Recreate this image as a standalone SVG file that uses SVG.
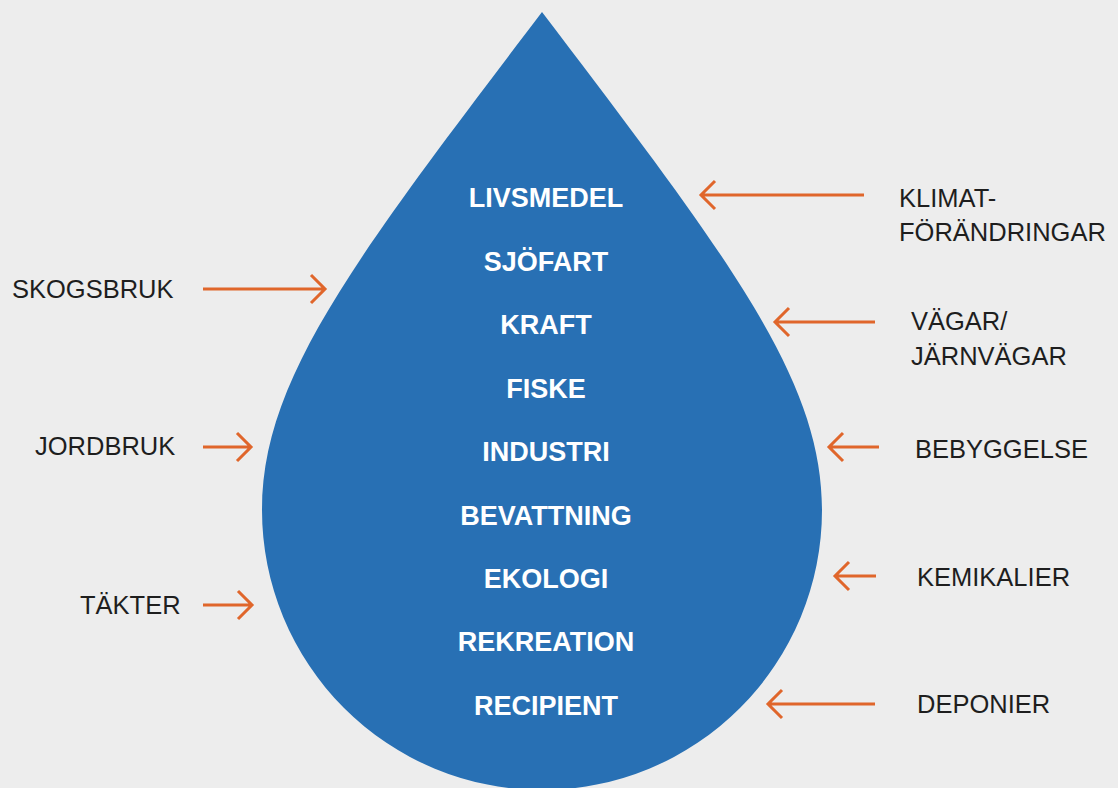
<svg xmlns="http://www.w3.org/2000/svg" width="1118" height="788" viewBox="0 0 1118 788">
  <style>
    .inner { font-family: "Liberation Sans", Arial, sans-serif; font-weight: bold; font-size: 27px; fill: #ffffff; text-anchor: middle; }
    .outer { font-family: "Liberation Sans", Arial, sans-serif; font-size: 25.5px; fill: #1e1e1e; }
    .arrow { fill: none; stroke: #e0662b; stroke-width: 3; stroke-linecap: butt; stroke-linejoin: miter; }
  </style>
  <rect width="1118" height="788" fill="#ededed"/>

  <!-- water drop -->
  <g id="drop">
    <path d="M 542 12 C 352 262 262 380 262 510 A 280 280 0 0 0 822 510 C 822 380 732 262 542 12 Z" fill="#2870b4"/>
    <text class="inner" x="546" y="207">LIVSMEDEL</text>
    <text class="inner" x="546" y="271">SJÖFART</text>
    <text class="inner" x="546" y="334">KRAFT</text>
    <text class="inner" x="546" y="398">FISKE</text>
    <text class="inner" x="546" y="461">INDUSTRI</text>
    <text class="inner" x="546" y="525">BEVATTNING</text>
    <text class="inner" x="546" y="588">EKOLOGI</text>
    <text class="inner" x="546" y="651">REKREATION</text>
    <text class="inner" x="546" y="715">RECIPIENT</text>
  </g>

  <!-- influences -->
  <g id="klimat"><text class="outer" x="899" y="207">KLIMAT-</text><text class="outer" x="899" y="241">FÖRÄNDRINGAR</text></g>
  <g id="skogsbruk"><text class="outer" x="12" y="298">SKOGSBRUK</text></g>
  <g id="vagar"><text class="outer" x="911" y="330">VÄGAR/</text><text class="outer" x="911" y="365">JÄRNVÄGAR</text></g>
  <g id="jordbruk"><text class="outer" x="35" y="455">JORDBRUK</text></g>
  <g id="bebyggelse"><text class="outer" x="915" y="458">BEBYGGELSE</text></g>
  <g id="kemikalier"><text class="outer" x="917" y="586">KEMIKALIER</text></g>
  <g id="takter"><text class="outer" x="80" y="614">TÄKTER</text></g>
  <g id="deponier"><text class="outer" x="917" y="713">DEPONIER</text></g>

  <!-- connectors -->
  <g id="connectors">
    <path class="arrow" d="M 864 195 H 701 M 715 181 L 701 195 L 715 209"/>
    <path class="arrow" d="M 203 289 H 325 M 311 275 L 325 289 L 311 303"/>
    <path class="arrow" d="M 875 322 H 775 M 789 308 L 775 322 L 789 336"/>
    <path class="arrow" d="M 203 447 H 251 M 237 433 L 251 447 L 237 461"/>
    <path class="arrow" d="M 879 447 H 829 M 843 433 L 829 447 L 843 461"/>
    <path class="arrow" d="M 876 576 H 835 M 849 562 L 835 576 L 849 590"/>
    <path class="arrow" d="M 203 605 H 252 M 238 591 L 252 605 L 238 619"/>
    <path class="arrow" d="M 875 704 H 768 M 782 690 L 768 704 L 782 718"/>
  </g>
</svg>
